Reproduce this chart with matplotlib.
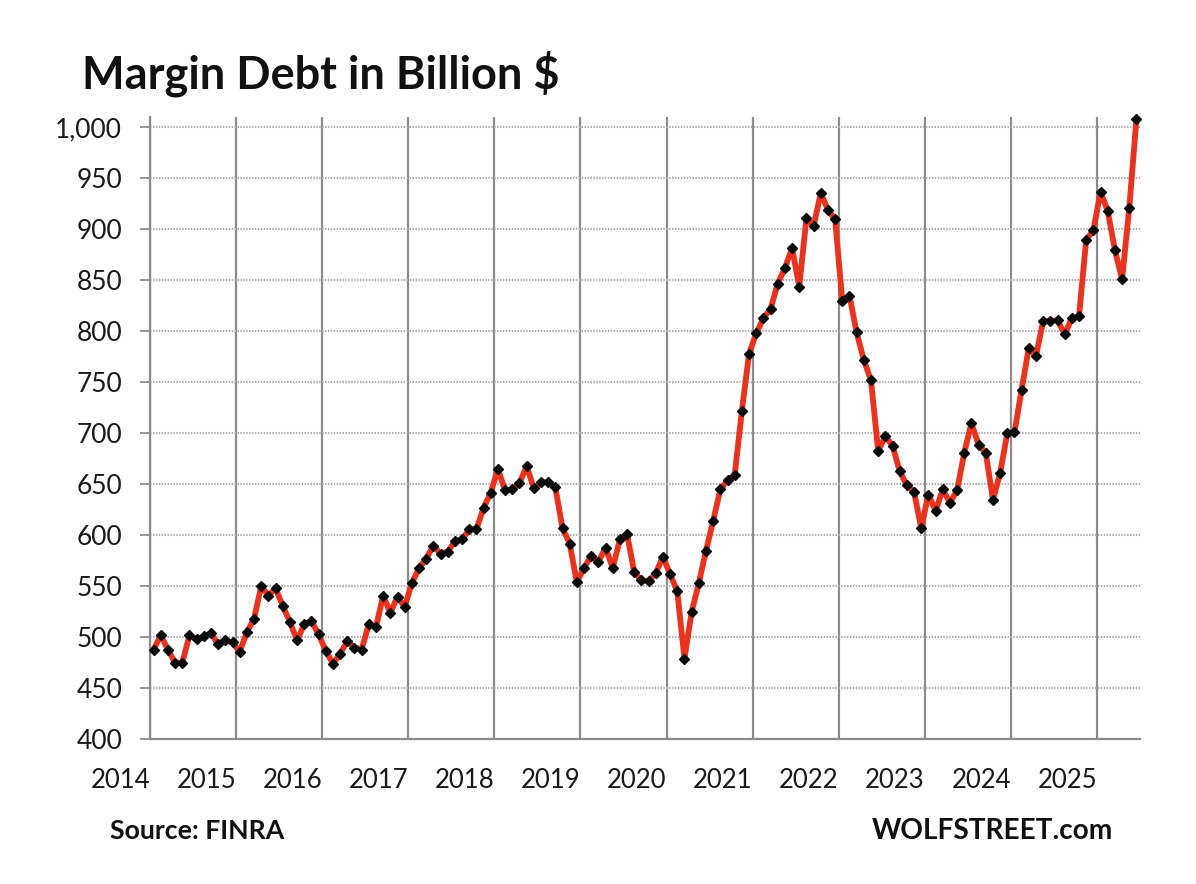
import numpy as np
import matplotlib
matplotlib.use("Agg")
import matplotlib.pyplot as plt
from matplotlib.transforms import ScaledTranslation

plt.rcParams['font.family'] = ['Lato', 'DejaVu Sans']

# monthly values
margin_debt = [
    488, 502, 488, 475, 475, 502, 498, 501, 504, 493, 497, 495,
    486, 505, 518, 550, 541, 548, 531, 515, 497, 513, 516, 503,
    487, 474, 484, 496, 490, 488, 513, 510, 541, 524, 540, 530,
    553, 568, 577, 590, 582, 584, 594, 596, 606, 606, 627, 642,
    665, 644, 645, 651, 668, 646, 652, 652, 647, 607, 592, 554,
    568, 580, 574, 588, 568, 596, 601, 564, 556, 555, 563, 579,
    562, 545, 479, 525, 553, 585, 614, 645, 654, 659, 722, 778,
    798, 813, 822, 847, 862, 882, 844, 911, 903, 936, 919, 910,
    830, 835, 799, 772, 752, 683, 697, 688, 663, 649, 643, 607,
    640, 624, 645, 632, 644, 681, 710, 689, 681, 635, 661, 700,
    701, 743, 784, 776, 810, 810, 811, 797, 813, 815, 890, 899,
    937, 918, 880, 851, 921, 1008,
]
years = ['2014', '2015', '2016', '2017', '2018', '2019', '2020', '2021',
         '2022', '2023', '2024', '2025']
y_ticks = [400, 450, 500, 550, 600, 650, 700, 750, 800, 850, 900, 950, 1000]

W, H = 1196, 884
fig = plt.figure(figsize=(W / 100, H / 100), dpi=100)
ax = fig.add_axes([150 / W, 1 - 739.3 / H, 990 / W, 622 / H])

x = np.arange(len(margin_debt)) + 0.5
ax.plot(x, margin_debt, color='#e8331f', lw=4.2, solid_joinstyle='round', zorder=3)
ax.plot(x, margin_debt, ls='none', marker='D', ms=5, color='#0a0a0a', zorder=4,
        clip_on=False)

ax.set_xlim(0, len(margin_debt))
ax.set_ylim(400, 1010)

# gridlines
ax.set_yticks(y_ticks)
ax.set_yticklabels([f'{v:,}' for v in y_ticks], fontsize=19, color='#1a1a1a')
ax.set_xticks(np.arange(len(years)) * 12)
ax.set_xticklabels(years, fontsize=18.5, color='#1a1a1a', ha='right')
nudge = ScaledTranslation(2 / 100, 0, fig.dpi_scale_trans)
for lab in ax.get_xticklabels():
    lab.set_transform(lab.get_transform() + nudge)
ax.grid(axis='y', color='#ababab', lw=1.5, ls=(0, (0.7, 0.7)), zorder=1)
ax.grid(axis='x', color='#8c8c8c', lw=1.6, zorder=2)
ax.set_axisbelow(True)

ax.tick_params(axis='y', length=7.5, width=1.3, color='#8c8c8c', pad=12.5)
ax.tick_params(axis='x', length=0, pad=20.5)
for side in ['top', 'right']:
    ax.spines[side].set_visible(False)
for side in ['left', 'bottom']:
    ax.spines[side].set_color('#8c8c8c')
    ax.spines[side].set_linewidth(1.6)

# title and captions
fig.text(82 / W, 1 - 74 / H, 'Margin Debt in Billion $', fontsize=32.5, fontweight='bold',
         color='#111111', ha='left', va='center')
fig.text(110 / W, 1 - 831 / H, 'Source: FINRA', fontsize=19.2, fontweight='bold',
         color='#111111', ha='left', va='center')
fig.text(1113 / W, 1 - 831 / H, 'WOLFSTREET.com', fontsize=20.2, fontweight='bold',
         color='#111111', ha='right', va='center')

plt.savefig('out.png', dpi=100)
